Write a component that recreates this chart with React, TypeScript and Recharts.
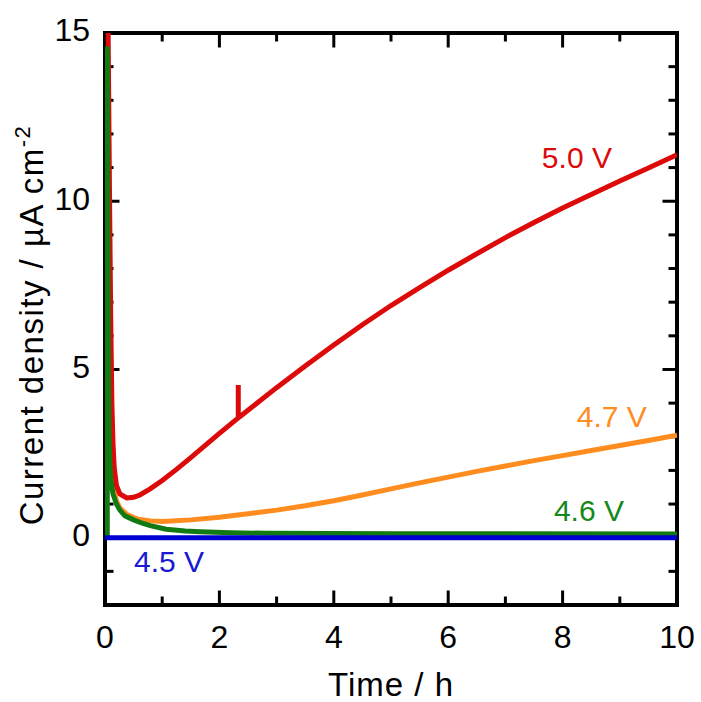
import { Line, LineChart, ReferenceDot, ReferenceLine, XAxis, YAxis } from "recharts";

// time (h) / current density (µA cm-2)
const t50 = [0.05, 0.08, 0.1, 0.12, 0.14, 0.16, 0.2, 0.26, 0.38, 0.5, 0.61, 0.79, 1.0, 1.25, 1.5, 2.0, 2.33, 2.33, 2.33, 2.5, 3.0, 3.5, 4.0, 4.5, 5.0, 5.5, 6.0, 6.5, 7.0, 7.5, 8.0, 8.5, 9.0, 9.5, 10];
const v50 = [16, 10, 6.5, 4, 2.8, 2.1, 1.55, 1.3, 1.18, 1.2, 1.27, 1.45, 1.7, 2.03, 2.38, 3.1, 3.56, 4.54, 3.56, 3.79, 4.46, 5.1, 5.73, 6.33, 6.9, 7.43, 7.95, 8.44, 8.92, 9.37, 9.8, 10.2, 10.6, 10.99, 11.38];

const t47 = [0.06, 0.08, 0.1, 0.14, 0.2, 0.26, 0.38, 0.5, 0.61, 0.8, 1.0, 1.5, 2.0, 2.5, 3.0, 3.5, 4.0, 4.5, 5.0, 5.5, 6.0, 6.5, 7.0, 7.5, 8.0, 8.5, 9.0, 9.5, 10];
const v47 = [10, 4, 2.3, 1.5, 1.1, 0.88, 0.7, 0.6, 0.54, 0.5, 0.48, 0.53, 0.61, 0.71, 0.82, 0.95, 1.1, 1.27, 1.45, 1.63, 1.8, 1.97, 2.13, 2.29, 2.44, 2.59, 2.74, 2.89, 3.05];

const t46 = [0.04, 0.04, 0.05, 0.06, 0.07, 0.085, 0.1, 0.14, 0.2, 0.26, 0.35, 0.5, 0.65, 0.79, 1.07, 1.4, 1.66, 2.2, 2.83, 5.1, 10];
const v46 = [0, 14.6, 9, 5, 3.2, 2.2, 1.75, 1.3, 1.0, 0.82, 0.65, 0.53, 0.43, 0.36, 0.25, 0.2, 0.18, 0.15, 0.13, 0.12, 0.11];

const t45 = [0, 10];
const v45 = [0, 0];

const xMajor = [0, 2, 4, 6, 8, 10];
const xMinor = [1, 3, 5, 7, 9];
const yMajor = [0, 5, 10, 15];
const yMinor = [-1, 1, 2, 3, 4, 6, 7, 8, 9, 11, 12, 13, 14];

const labels = [
  { x: 8.25, y: 11.31, text: "5.0 V", color: "#dd0a0a" },
  { x: 8.86, y: 3.62, text: "4.7 V", color: "#ff8c1e" },
  { x: 8.46, y: 0.8, text: "4.6 V", color: "#16881a" },
  { x: 1.12, y: -0.69, text: "4.5 V", color: "#1a1ad2" },
];

const X0 = 0, X1 = 10, Y0 = -2, Y1 = 15;
// data units per pixel (plot is 572 x 572 px)
const ux = (X1 - X0) / 572;
const uy = (Y1 - Y0) / 572;

const zip = (xs: number[], ys: number[]) => xs.map((x, i) => ({ x, y: ys[i] }));

const FONT = "'Liberation Sans', Arial, sans-serif";

const seg = (a: { x: number; y: number }, b: { x: number; y: number }, w: number, key: string) => (
  <ReferenceLine
    key={key}
    xAxisId="b"
    yAxisId="l"
    segment={[a, b]}
    stroke="#000"
    strokeWidth={w}
    strokeLinecap="square"
    ifOverflow="visible"
  />
);

export default function App() {
  const ticks: any[] = [];
  xMajor.concat(xMinor).forEach((v) => {
    const len = (xMajor.includes(v) ? 13 : 7) * uy;
    ticks.push(seg({ x: v, y: Y0 }, { x: v, y: Y0 + len }, 3, "xb" + v));
    ticks.push(seg({ x: v, y: Y1 }, { x: v, y: Y1 - len }, 3, "xt" + v));
  });
  yMajor.concat(yMinor).forEach((v) => {
    const len = (yMajor.includes(v) ? 13 : 7) * ux;
    ticks.push(seg({ x: X0, y: v }, { x: X0 + len, y: v }, 3, "yl" + v));
    ticks.push(seg({ x: X1, y: v }, { x: X1 - len, y: v }, 3, "yr" + v));
  });

  return (
    <div style={{ position: "absolute", left: 0, top: 0, background: "#fff" }}>
      <LineChart width={701} height={702} margin={{ top: 33, right: 24, bottom: 47, left: 45 }}>
        <XAxis
          xAxisId="b"
          type="number"
          dataKey="x"
          domain={[X0, X1]}
          ticks={xMajor}
          interval={0}
          allowDataOverflow
          height={50}
          tickSize={20}
          tickMargin={0}
          tickLine={false}
          axisLine={false}
          tick={{ fontSize: 32, fontFamily: FONT, fill: "#000" }}
          label={{
            content: () => (
              <text x={391} y={696} textAnchor="middle" fontSize={33} letterSpacing={1} fontFamily={FONT} fill="#000">
                Time / h
              </text>
            ),
          }}
        />
        <YAxis
          yAxisId="l"
          type="number"
          domain={[Y0, Y1]}
          ticks={yMajor}
          interval={0}
          allowDataOverflow
          width={60}
          tickSize={0}
          tickMargin={15}
          tickLine={false}
          axisLine={false}
          tick={{ fontSize: 32, fontFamily: FONT, fill: "#000", dy: -3 }}
          label={{
            content: () => (
              <text
                x={43}
                y={325}
                transform="rotate(-90, 43, 325)"
                textAnchor="middle"
                fontSize={33}
                letterSpacing={1.5}
                fontFamily={FONT}
                fill="#000"
              >
                Current density / µA cm
                <tspan dy={-13} fontSize={22}>-2</tspan>
              </text>
            ),
          }}
        />
        {seg({ x: X0, y: Y0 }, { x: X1, y: Y0 }, 4, "fb")}
        {seg({ x: X0, y: Y1 }, { x: X1, y: Y1 }, 4, "ft")}
        {seg({ x: X0, y: Y0 }, { x: X0, y: Y1 }, 4, "fl")}
        {seg({ x: X1, y: Y0 }, { x: X1, y: Y1 }, 4, "fr")}
        {ticks}
        <Line xAxisId="b" yAxisId="l" data={zip(t47, v47)} dataKey="y" type="linear" stroke="#ff8c1e" strokeWidth={5} dot={false} isAnimationActive={false} />
        <Line xAxisId="b" yAxisId="l" data={zip(t50, v50)} dataKey="y" type="linear" stroke="#dd0a0a" strokeWidth={5} dot={false} isAnimationActive={false} />
        <Line xAxisId="b" yAxisId="l" data={zip(t46, v46)} dataKey="y" type="linear" stroke="#127a12" strokeWidth={5} dot={false} isAnimationActive={false} />
        <Line xAxisId="b" yAxisId="l" data={zip(t45, v45)} dataKey="y" type="linear" stroke="#0000d2" strokeWidth={5} dot={false} isAnimationActive={false} />
        {labels.map((l) => (
          <ReferenceDot
            key={l.text}
            xAxisId="b"
            yAxisId="l"
            x={l.x}
            y={l.y}
            r={0}
            fill="none"
            stroke="none"
            label={{ value: l.text, position: "center", fill: l.color, fontSize: 30, fontFamily: FONT }}
          />
        ))}
      </LineChart>
    </div>
  );
}
